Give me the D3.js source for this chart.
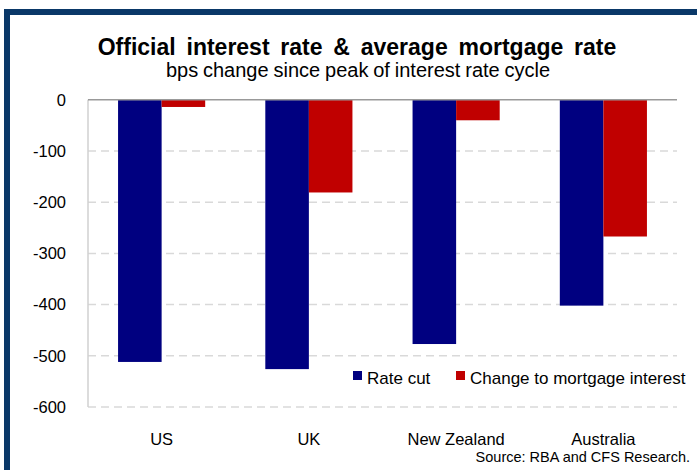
<!DOCTYPE html>
<html><head><meta charset="utf-8">
<script src="https://cdn.jsdelivr.net/npm/d3@7"></script>
<style>html,body{margin:0;padding:0;background:#fff;overflow:hidden}svg{display:block;font-family:"Liberation Sans",Arial,sans-serif}</style>
</head><body>
<script>
const categories = ["US", "UK", "New Zealand", "Australia"];
const seriesNames = ["Rate cut", "Change to mortgage interest"];
const rateCut = [-512, -526, -477, -402];
const mortgageChange = [-14, -181, -40, -267];
const yTicks = [0, -100, -200, -300, -400, -500, -600];
const colors = ["#000080", "#C00000"];
const titleText = "Official interest rate & average mortgage rate";
const subtitleText = "bps change since peak of interest rate cycle";
const sourceText = "Source: RBA and CFS Research.";

const W = 697, H = 470;
const svg = d3.select("body").append("svg").attr("width", W).attr("height", H);
svg.append("rect").attr("x",7).attr("y",12).attr("width",900).attr("height",700)
  .attr("fill","#fff").attr("stroke","#0a3868").attr("stroke-width",6);

const plot = {left: 88, right: 677, top: 99.8, bottom: 407};
const x = d3.scaleBand().domain(categories).range([plot.left, plot.right]);
const xs = d3.scaleBand().domain(seriesNames).range([0, x.bandwidth()]).paddingOuter(0.69);
const y = d3.scaleLinear().domain([-600, 0]).range([plot.bottom, plot.top]);

// gridlines
svg.append("g").selectAll("line").data(yTicks.filter(d => d !== 0)).join("line")
  .attr("x1", plot.left).attr("x2", plot.right)
  .attr("y1", d => y(d)).attr("y2", d => y(d))
  .attr("stroke", "#d9d9d9").attr("stroke-width", 1.5).attr("stroke-dasharray", "8,5");
// left axis line
svg.append("line").attr("x1", plot.left).attr("x2", plot.left).attr("y1", y(0)).attr("y2", y(-600))
  .attr("stroke", "#d0d0d0").attr("stroke-width", 1.5);

// y axis labels
const yAxis = d3.axisLeft(y).tickValues(yTicks).tickSize(0).tickPadding(22).tickFormat(d => String(d));
const ya = svg.append("g").attr("transform", `translate(${plot.left},0)`).call(yAxis);
ya.select(".domain").remove();
ya.selectAll("text").attr("font-size", 16.5).attr("fill", "#000").attr("font-family", "Liberation Sans, Arial, sans-serif");

// bars
const data = categories.map((c, i) => ({cat: c, vals: [rateCut[i], mortgageChange[i]]}));
const groups = svg.append("g").selectAll("g").data(data).join("g")
  .attr("transform", d => `translate(${x(d.cat)},0)`);
groups.selectAll("rect").data(d => d.vals.map((v, j) => ({s: seriesNames[j], v, j}))).join("rect")
  .attr("x", d => xs(d.s)).attr("width", xs.bandwidth())
  .attr("y", y(0)).attr("height", d => y(d.v) - y(0))
  .attr("fill", d => colors[d.j]);

// zero line
svg.append("line").attr("x1", plot.left).attr("x2", plot.right).attr("y1", y(0)).attr("y2", y(0))
  .attr("stroke", "#999").attr("stroke-width", 1.5);

// x axis labels
const xAxis = d3.axisBottom(x).tickSize(0).tickPadding(0);
const xa = svg.append("g").attr("transform", `translate(0,${plot.bottom + 26})`).call(xAxis);
xa.select(".domain").remove();
xa.selectAll("text").attr("font-size", 16.5).attr("fill", "#000").attr("dy", "0.71em").attr("font-family", "Liberation Sans, Arial, sans-serif");

// titles
svg.append("text").attr("x", 357).attr("y", 55).attr("text-anchor", "middle")
  .attr("font-size", 23).attr("font-weight", "bold").attr("word-spacing", 4.4).text(titleText);
svg.append("text").attr("x", 358).attr("y", 77).attr("text-anchor", "middle")
  .attr("font-size", 20).attr("word-spacing", -0.7).text(subtitleText);

// legend
const legX = [353, 456];
const leg = svg.append("g").selectAll("g").data(seriesNames).join("g")
  .attr("transform", (d, i) => `translate(${legX[i]},371)`);
leg.append("rect").attr("width", 9).attr("height", 9).attr("fill", (d, i) => colors[i]);
leg.append("text").attr("x", 14).attr("y", 12.5).attr("font-size", 17).text(d => d);

// source
svg.append("text").attr("x", 690).attr("y", 462).attr("text-anchor", "end")
  .attr("font-size", 14.5).text(sourceText);
</script>
</body></html>
